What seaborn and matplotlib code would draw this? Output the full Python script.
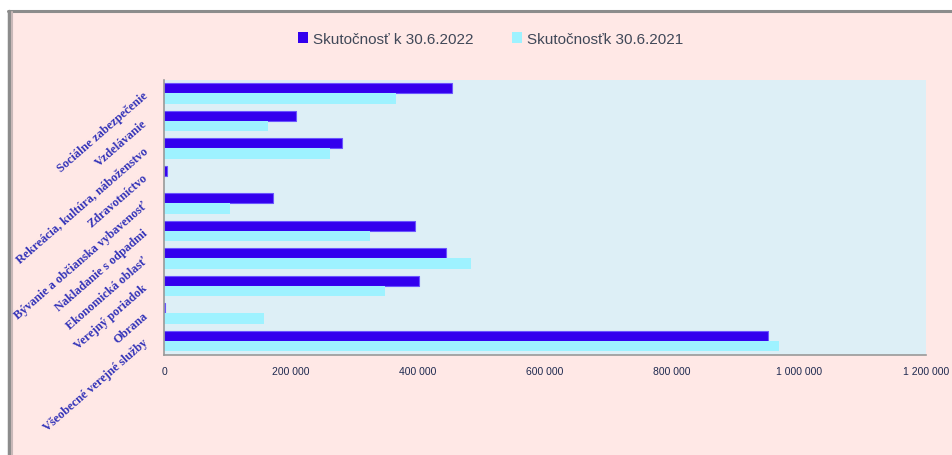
"""
Výdavky podľa funkčnej klasifikácie - porovnanie 30.6.2022 a 30.6.2021
"""
import pandas as pd
import matplotlib.pyplot as plt
import seaborn as sns
import numpy as np
from matplotlib.patches import Rectangle
from matplotlib.lines import Line2D
from matplotlib.ticker import FuncFormatter, FixedLocator

categories = [
    'Sociálne zabezpečenie',
    'Vzdelávanie',
    'Rekreácia, kultúra, náboženstvo',
    'Zdravotníctvo',
    'Bývanie a občianska vybavenosť',
    'Nakladanie s odpadmi',
    'Ekonomická oblasť',
    'Verejný poriadok',
    'Obrana',
    'Všeobecné verejné služby',
]
values_2022 = [454000, 208000, 280000, 5000, 171000, 395000, 444000, 402000, 2000, 951000]
values_2021 = [365000, 163000, 261000, 0, 104000, 325000, 484000, 348000, 157000, 968000]
series_names = ['Skutočnosť k 30.6.2022', 'Skutočnosťk 30.6.2021']
x_ticks = [0, 200000, 400000, 600000, 800000, 1000000, 1200000]

df = pd.DataFrame({
    'kategoria': categories * 2,
    'hodnota': values_2022 + values_2021,
    'obdobie': [series_names[0]] * len(categories) + [series_names[1]] * len(categories),
})

sns.set_style('white')
plt.rcParams['font.family'] = ['Liberation Sans', 'DejaVu Sans']

fig = plt.figure(figsize=(9.52, 4.56), dpi=100)
fig.patch.set_facecolor('white')

# ružové pozadie s rámčekom
W, H = 952, 456
fig.patches.append(Rectangle((8 / W, 0), 1, 1 - 12 / H, transform=fig.transFigure,
                             facecolor='#FFE8E6', edgecolor='none', zorder=-10))
fig.lines.append(Line2D([8 / W, 1], [1 - 12 / H, 1 - 12 / H], transform=fig.transFigure,
                        color='#8c8c8c', lw=2.2, zorder=-5))
fig.lines.append(Line2D([9 / W, 9 / W], [0, 1 - 12 / H], transform=fig.transFigure,
                        color='#8c8c8c', lw=2.5, zorder=-5))
fig.lines.append(Line2D([11.5 / W, 11.5 / W], [0, 1 - 13 / H], transform=fig.transFigure,
                        color='#c8b8b8', lw=1.5, zorder=-5))

ax = fig.add_axes([164 / W, 1 - 355.7 / H, (926 - 164) / W, (355.7 - 80.7) / H])
ax.set_facecolor('#DDEFF6')

sns.barplot(data=df, y='kategoria', x='hodnota', hue='obdobie', orient='h',
            order=categories, hue_order=series_names,
            palette=['#3300EE', '#9EF2FF'], saturation=1, width=0.76, gap=0,
            linewidth=0, ax=ax)
for bar in ax.patches[:len(categories)]:
    bar.set_edgecolor('#6A55FF')
    bar.set_linewidth(0.8)

ax.set_xlim(0, 1200000)
ax.set_ylim(len(categories) - 0.5, -0.5)
ax.set_xlabel('')
ax.set_ylabel('')

ax.xaxis.set_major_locator(FixedLocator(x_ticks))
ax.xaxis.set_major_formatter(FuncFormatter(lambda v, p: f'{int(v):,}'.replace(',', ' ')))
ax.tick_params(axis='x', direction='out', length=4, width=1, color='#999999',
               labelsize=7.5, labelcolor='#1F2A50', pad=4)

ax.set_yticks(np.arange(len(categories)))
ax.set_yticklabels(categories, rotation=41, ha='right', va='center',
                   rotation_mode='anchor', family=['Liberation Serif'],
                   fontweight='bold', fontsize=8.8, color='#3333B8')
ax.tick_params(axis='y', which='major', length=0, pad=13)
ax.set_yticks(np.arange(len(categories) + 1) - 0.5, minor=True)
ax.tick_params(axis='y', which='minor', direction='out', length=4, width=1, color='#999999')

for side in ['top', 'right']:
    ax.spines[side].set_visible(False)
for side in ['left', 'bottom']:
    ax.spines[side].set_color('#999999')
    ax.spines[side].set_linewidth(1.2)

handles, labels = ax.get_legend_handles_labels()
ax.legend(handles, labels, loc='center', bbox_to_anchor=(0.515, 1 - 40 / H),
          bbox_transform=fig.transFigure, ncol=2, frameon=False,
          handlelength=0.7, handleheight=0.7, handletextpad=0.3, columnspacing=2.5,
          prop={'size': 11}, labelcolor='#404858')

plt.savefig('out.png', dpi=100)
plt.close()
